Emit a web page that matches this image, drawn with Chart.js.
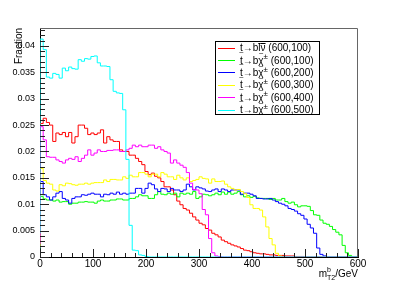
<!DOCTYPE html>
<html>
<head>
<meta charset="utf-8">
<script src="https://cdn.jsdelivr.net/npm/chart.js@4.4.1/dist/chart.umd.min.js"></script>
<style>
  html, body { margin: 0; padding: 0; background: #fff; }
  canvas { display: block; }
</style>
</head>
<body>
<canvas id="c" width="399" height="286"></canvas>
<script>
// histogram binning: 100 bins of 6 GeV from 0 to 600
const binWidth = 6;
const nBins = 100;
const binEdges = Array.from({ length: nBins + 1 }, (_, i) => i * binWidth);

// legend text; the plugin adds the tildes, bar and the raised ± sign
const seriesLabels = [
  't\u2192bl\u03bd (600,100)',
  't\u2192b\u03c7\u00b1 (600,100)',
  't\u2192b\u03c7\u00b1 (600,200)',
  't\u2192b\u03c7\u00b1 (600,300)',
  't\u2192b\u03c7\u00b1 (600,400)',
  't\u2192b\u03c7\u00b1 (600,500)'
];
const seriesColors = ['#ff0000', '#00ff00', '#0000ff', '#ffff00', '#ff00ff', '#00ffff'];

const blnu_600_100 = [
  0.0017, 0.0253, 0.0263, 0.0255, 0.0250, 0.0219, 0.0235, 0.0232, 0.0236, 0.0228,
  0.0236, 0.0216, 0.0228, 0.0250, 0.0250, 0.0244, 0.0232, 0.0235, 0.0232, 0.0235,
  0.0241, 0.0216, 0.0228, 0.0222, 0.0219, 0.0219, 0.0203, 0.0200, 0.0200, 0.0193,
  0.0193, 0.0187, 0.0181, 0.0175, 0.0162, 0.0156, 0.0159, 0.0153, 0.0150, 0.0143,
  0.0133, 0.0133, 0.0127, 0.0118, 0.0106, 0.0099, 0.0092, 0.0089, 0.0083, 0.0076,
  0.0070, 0.0064, 0.0061, 0.0054, 0.0051, 0.0045, 0.0042, 0.0038, 0.0032, 0.0029,
  0.0026, 0.0023, 0.0021, 0.0019, 0.0016, 0.0013, 0.0012, 0.0010, 0.0008, 0.0007,
  0.0006, 0.0006, 0.0005, 0.0004, 0.0004, 0.0003, 0.0003, 0.0003, 0.0002, 0.0002,
  0.0002, 0.0001, 0.0001, 0.0001, 0, 0, 0, 0, 0, 0,
  0, 0, 0, 0, 0, 0, 0, 0, 0, 0
];
const bchi_600_100 = [
  0.0015, 0.0115, 0.0110, 0.0108, 0.0108, 0.0106, 0.0108, 0.0104, 0.0105, 0.0105,
  0.0100, 0.0102, 0.0102, 0.0104, 0.0104, 0.0105, 0.0104, 0.0104, 0.0102, 0.0106,
  0.0108, 0.0106, 0.0106, 0.0108, 0.0108, 0.0110, 0.0110, 0.0108, 0.0108, 0.0111,
  0.0111, 0.0114, 0.0118, 0.0116, 0.0116, 0.0111, 0.0111, 0.0118, 0.0124, 0.0119,
  0.0118, 0.0121, 0.0119, 0.0121, 0.0114, 0.0121, 0.0119, 0.0121, 0.0119, 0.0124,
  0.0111, 0.0114, 0.0119, 0.0118, 0.0116, 0.0118, 0.0121, 0.0118, 0.0123, 0.0119,
  0.0123, 0.0119, 0.0121, 0.0124, 0.0118, 0.0114, 0.0116, 0.0113, 0.0115, 0.0112,
  0.0111, 0.0111, 0.0111, 0.0109, 0.0111, 0.0108, 0.0108, 0.0111, 0.0105, 0.0102,
  0.0104, 0.0099, 0.0095, 0.0097, 0.0097, 0.0096, 0.0088, 0.0080, 0.0079, 0.0070,
  0.0064, 0.0062, 0.0058, 0.0052, 0.0047, 0.0042, 0.0022, 0.0008, 0.0003, 0.0001
];
const bchi_600_200 = [
  0.0016, 0.0143, 0.0118, 0.0114, 0.0108, 0.0114, 0.0121, 0.0124, 0.0111, 0.0108,
  0.0102, 0.0111, 0.0114, 0.0114, 0.0118, 0.0117, 0.0119, 0.0121, 0.0119, 0.0119,
  0.0114, 0.0119, 0.0118, 0.0121, 0.0119, 0.0123, 0.0119, 0.0121, 0.0119, 0.0121,
  0.0121, 0.0130, 0.0130, 0.0121, 0.0130, 0.0140, 0.0137, 0.0129, 0.0124, 0.0130,
  0.0129, 0.0124, 0.0130, 0.0127, 0.0127, 0.0124, 0.0127, 0.0138, 0.0133, 0.0127,
  0.0133, 0.0131, 0.0129, 0.0125, 0.0124, 0.0127, 0.0129, 0.0124, 0.0129, 0.0127,
  0.0124, 0.0127, 0.0127, 0.0127, 0.0119, 0.0121, 0.0121, 0.0119, 0.0116, 0.0111,
  0.0111, 0.0110, 0.0110, 0.0111, 0.0108, 0.0105, 0.0102, 0.0100, 0.0097, 0.0092,
  0.0090, 0.0087, 0.0082, 0.0079, 0.0072, 0.0062, 0.0055, 0.0045, 0.0017, 0.0005,
  0.0002, 0, 0, 0, 0, 0, 0, 0, 0, 0
];
const bchi_600_300 = [
  0.0018, 0.0168, 0.0145, 0.0140, 0.0138, 0.0127, 0.0125, 0.0137, 0.0135, 0.0140,
  0.0139, 0.0137, 0.0136, 0.0138, 0.0138, 0.0140, 0.0138, 0.0140, 0.0141, 0.0141,
  0.0141, 0.0146, 0.0143, 0.0147, 0.0147, 0.0146, 0.0146, 0.0152, 0.0149, 0.0155,
  0.0152, 0.0152, 0.0160, 0.0160, 0.0157, 0.0152, 0.0157, 0.0157, 0.0152, 0.0160,
  0.0157, 0.0152, 0.0152, 0.0147, 0.0155, 0.0150, 0.0146, 0.0150, 0.0143, 0.0145,
  0.0147, 0.0152, 0.0149, 0.0148, 0.0140, 0.0148, 0.0143, 0.0143, 0.0144, 0.0138,
  0.0133, 0.0130, 0.0127, 0.0128, 0.0124, 0.0120, 0.0113, 0.0099, 0.0092, 0.0092,
  0.0089, 0.0076, 0.0057, 0.0035, 0.0023, 0.0007, 0.0002, 0.0001, 0, 0,
  0, 0, 0, 0, 0, 0, 0, 0, 0, 0,
  0, 0, 0, 0, 0, 0, 0, 0, 0, 0
];
const bchi_600_400 = [
  0.0025, 0.0247, 0.0222, 0.0190, 0.0189, 0.0189, 0.0184, 0.0181, 0.0178, 0.0184,
  0.0187, 0.0185, 0.0190, 0.0181, 0.0187, 0.0193, 0.0203, 0.0193, 0.0197, 0.0203,
  0.0200, 0.0200, 0.0202, 0.0202, 0.0203, 0.0203, 0.0200, 0.0200, 0.0203, 0.0206,
  0.0212, 0.0209, 0.0212, 0.0209, 0.0209, 0.0212, 0.0212, 0.0206, 0.0209, 0.0203,
  0.0200, 0.0197, 0.0178, 0.0184, 0.0178, 0.0174, 0.0170, 0.0160, 0.0140, 0.0128,
  0.0127, 0.0120, 0.0090, 0.0080, 0.0035, 0.0008, 0.0002, 0.0001, 0, 0,
  0, 0, 0, 0, 0, 0, 0, 0, 0, 0,
  0, 0, 0, 0, 0, 0, 0, 0, 0, 0,
  0, 0, 0, 0, 0, 0, 0, 0, 0, 0,
  0, 0, 0, 0, 0, 0, 0, 0, 0, 0
];
const bchi_600_500 = [
  0.0045, 0.0413, 0.0393, 0.0341, 0.0339, 0.0348, 0.0346, 0.0339, 0.0358, 0.0353,
  0.0360, 0.0357, 0.0356, 0.0374, 0.0371, 0.0376, 0.0375, 0.0380, 0.0381, 0.0368,
  0.0362, 0.0362, 0.0361, 0.0336, 0.0314, 0.0311, 0.0310, 0.0279, 0.0185, 0.0060,
  0.0013, 0.0012, 0.0004, 0.0003, 0.0001, 0, 0, 0, 0, 0,
  0, 0, 0, 0, 0, 0, 0, 0, 0, 0,
  0, 0, 0, 0, 0, 0, 0, 0, 0, 0,
  0, 0, 0, 0, 0, 0, 0, 0, 0, 0,
  0, 0, 0, 0, 0, 0, 0, 0, 0, 0,
  0, 0, 0, 0, 0, 0, 0, 0, 0, 0,
  0, 0, 0, 0, 0, 0, 0, 0, 0, 0
];

const allSeries = [blnu_600_100, bchi_600_100, bchi_600_200, bchi_600_300, bchi_600_400, bchi_600_500];

const xTickLabels = ['0', '100', '200', '300', '400', '500', '600'];
const yTickLabels = ['0', '0.005', '0.01', '0.015', '0.02', '0.025', '0.03', '0.035', '0.04'];
const yTitle = 'Fraction';
const xTitle = { main: 'm', sup: 'b', sub: 'T2', unit: '/GeV' };

const FONT = '"Liberation Sans", Arial, Helvetica, sans-serif';

// step outline: value of bin i holds from its low edge to the next edge
function histPoints(vals) {
  const pts = vals.map((v, i) => ({ x: binEdges[i], y: v }));
  pts.push({ x: binEdges[nBins], y: vals[vals.length - 1] });
  return pts;
}

// ROOT-like inner tick marks plus grey top/right frame
const frameTicks = {
  id: 'frameTicks',
  afterDatasetsDraw(chart) {
    const { ctx, chartArea: a, scales: { x, y } } = chart;
    ctx.save();
    ctx.lineWidth = 1;
    ctx.strokeStyle = '#222';
    ctx.beginPath();
    for (let i = 0; i <= 43; i++) {
      const py = Math.round(y.getPixelForValue(i / 1000)) + 0.5;
      ctx.moveTo(a.left, py);
      ctx.lineTo(a.left + (i % 5 ? 5 : 9), py);
    }
    for (let i = 0; i <= 30; i++) {
      const px = Math.round(x.getPixelForValue(i * 20)) + 0.5;
      ctx.moveTo(px, a.bottom);
      ctx.lineTo(px, a.bottom - (i % 5 ? 4 : 8));
    }
    ctx.stroke();
    ctx.strokeStyle = '#666';
    ctx.beginPath();
    ctx.moveTo(a.left, a.top + 0.5);
    ctx.lineTo(a.right - 0.5, a.top + 0.5);
    ctx.lineTo(a.right - 0.5, a.bottom);
    ctx.stroke();
    ctx.restore();
  }
};

function smallMark(ctx, ch, cx, y) {
  ctx.save();
  ctx.font = '8px ' + FONT;
  ctx.textAlign = 'center';
  ctx.fillText(ch, cx, y);
  ctx.restore();
}

const legendBox = {
  id: 'legendBox',
  afterDraw(chart) {
    const ctx = chart.ctx;
    const bx = 215.5, by = 41.5, bw = 104, bh = 73;
    ctx.save();
    ctx.fillStyle = '#fff';
    ctx.fillRect(bx, by, bw, bh);
    ctx.strokeStyle = '#000';
    ctx.lineWidth = 1;
    ctx.strokeRect(bx, by, bw, bh);
    chart.data.datasets.forEach((ds, i) => {
      const cy = 47.5 + i * 12.4;
      const ly = Math.round(cy) + 0.5;
      ctx.strokeStyle = ds.borderColor;
      ctx.beginPath();
      ctx.moveTo(218, ly);
      ctx.lineTo(235, ly);
      ctx.stroke();
      ctx.fillStyle = '#000';
      ctx.strokeStyle = '#000';
      ctx.textBaseline = 'middle';
      ctx.textAlign = 'left';
      let tx = 240;
      const chars = [...ds.label];
      chars.forEach((ch, k) => {
        if (ch === '\u00b1') {
          ctx.font = '8px ' + FONT;
          ctx.fillText(ch, tx, cy - 3);
          tx += ctx.measureText(ch).width;
          return;
        }
        ctx.font = '10px ' + FONT;
        const w = ctx.measureText(ch).width;
        ctx.fillText(ch, tx, cy + 1);
        if (k === 0) smallMark(ctx, '~', tx + w / 2, cy + 5);
        if (ch === '\u03c7') smallMark(ctx, '~', tx + w / 2, cy - 6);
        if (ch === 'l' || ch === '\u03bd') {
          ctx.beginPath();
          ctx.moveTo(tx, Math.round(cy - 5) + 0.5);
          ctx.lineTo(tx + w, Math.round(cy - 5) + 0.5);
          ctx.stroke();
        }
        tx += w;
      });
    });
    ctx.restore();
  }
};

const xTitleDraw = {
  id: 'xTitleDraw',
  afterDraw(chart) {
    const ctx = chart.ctx;
    const right = chart.chartArea.right;
    const base = 277;
    ctx.save();
    ctx.fillStyle = '#000';
    ctx.textBaseline = 'alphabetic';
    ctx.textAlign = 'left';
    ctx.font = '10px ' + FONT;
    const wm = ctx.measureText(xTitle.main).width;
    const wu = ctx.measureText(xTitle.unit).width;
    ctx.font = '7px ' + FONT;
    const ws = Math.max(ctx.measureText(xTitle.sup).width, ctx.measureText(xTitle.sub).width);
    const x0 = right - wu - ws - wm;
    ctx.font = '10px ' + FONT;
    ctx.fillText(xTitle.main, x0, base);
    ctx.font = '7px ' + FONT;
    ctx.fillText(xTitle.sup, x0 + wm, base - 5);
    ctx.fillText(xTitle.sub, x0 + wm, base + 3);
    ctx.font = '10px ' + FONT;
    ctx.fillText(xTitle.unit, x0 + wm + ws, base);
    ctx.restore();
  }
};

new Chart(document.getElementById('c'), {
  type: 'line',
  data: {
    datasets: allSeries.map((vals, i) => ({
      label: seriesLabels[i],
      data: histPoints(vals),
      borderColor: seriesColors[i],
      backgroundColor: seriesColors[i],
      borderWidth: 1,
      pointRadius: 0,
      stepped: 'after',
      fill: false,
      order: allSeries.length - i
    }))
  },
  options: {
    responsive: false,
    animation: false,
    devicePixelRatio: 1,
    layout: { padding: { top: 28, right: 41, left: 0, bottom: 0 } },
    plugins: { legend: { display: false }, tooltip: { enabled: false } },
    scales: {
      x: {
        type: 'linear',
        min: 0,
        max: 600,
        grid: { display: false, drawTicks: false },
        border: { display: true, color: '#000', width: 1 },
        ticks: {
          stepSize: 100,
          padding: 1,
          maxRotation: 0,
          color: '#000',
          font: { family: FONT, size: 10 },
          callback: (v, i) => xTickLabels[i]
        },
        afterFit: s => { s.height = 29; }
      },
      y: {
        type: 'linear',
        min: 0,
        max: 0.0434,
        grid: { display: false, drawTicks: false },
        border: { display: true, color: '#000', width: 1 },
        ticks: {
          stepSize: 0.005,
          includeBounds: false,
          padding: 5,
          color: '#000',
          font: { family: FONT, size: 9 },
          callback: (v, i) => yTickLabels[i]
        },
        title: {
          display: true,
          text: yTitle,
          align: 'end',
          color: '#000',
          font: { family: FONT, size: 10 },
          padding: { top: 13, bottom: 0 }
        },
        afterFit: s => { s.width = 40; }
      }
    }
  },
  plugins: [frameTicks, legendBox, xTitleDraw]
});
</script>
</body>
</html>
